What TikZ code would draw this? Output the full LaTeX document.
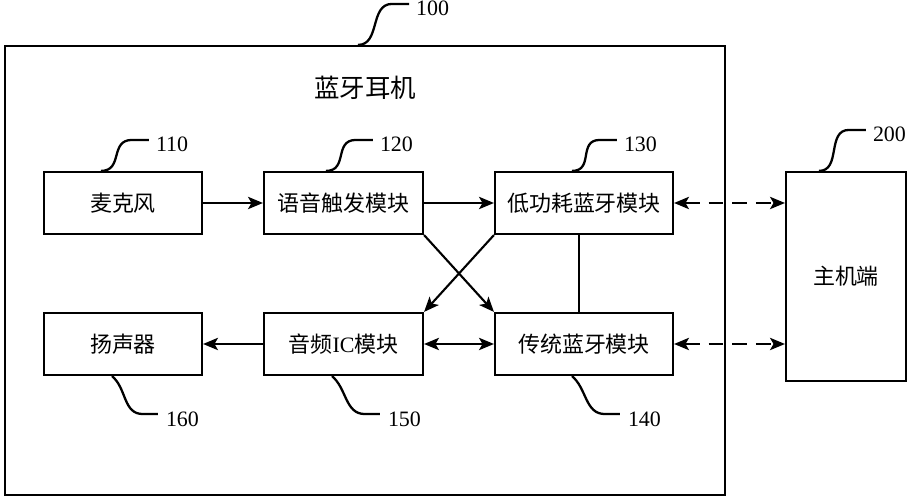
\documentclass[tikz,border=0pt]{standalone}
\usepackage{fontspec}
\setmainfont{Liberation Serif}
\newfontfamily\cjk{Noto Sans CJK SC}
\usepackage{tikz}
\usetikzlibrary{arrows.meta}

% number tag with an s-shaped leader line
\newcommand{\tagup}[4]{%
  \draw[lead] (#1) .. controls +(0.45,0) and +(-0.45,0) .. ++(#2) -- ++(0.34,0) coordinate (#3-t);
  \node[num,anchor=west] (#3) at ([shift={(0.12,-0.09)}]#3-t) {#4};}
\newcommand{\tagdown}[4]{%
  \draw[lead] (#1) .. controls +(0.3,-0.25) and +(-0.4,0) .. ++(#2) -- ++(0.3,0) coordinate (#3-t);
  \node[num,anchor=west] (#3) at ([shift={(0.14,-0.1)}]#3-t) {#4};}

\begin{document}
\begin{tikzpicture}[>={Stealth[length=8.5pt,width=7pt,inset=2pt]},line width=1.2pt,
    blk/.style={draw,inner sep=0pt,minimum height=1.24cm,font=\cjk\fontsize{12.5}{14}\selectfont},
    num/.style={inner sep=0pt,font=\fontsize{12.5}{14}\selectfont},
    lead/.style={line width=1.3pt},
    dasharr/.style={<->,dash pattern=on 8.5pt off 5pt}]
    \useasboundingbox (0,0) rectangle (18.22,10);
    \node[draw,minimum width=14.4cm,minimum height=8.98cm,inner sep=0pt] (ear) at (7.3,4.59) {};
    \node[font=\cjk\fontsize{14.5}{16}\selectfont] (title) at (7.3,8.24) {蓝牙耳机};
    % top row
    \node[blk,minimum width=3.16cm] (mic) at (2.46,5.94) {麦克风};
    \node[blk,minimum width=3.18cm] (vt) at (6.87,5.94) {语音触发模块};
    \node[blk,minimum width=3.56cm] (ble) at (11.68,5.94) {低功耗蓝牙模块};
    % bottom row
    \node[blk,minimum width=3.16cm] (spk) at (2.46,3.12) {扬声器};
    \node[blk,minimum width=3.18cm] (aic) at (6.87,3.12) {音频{\rmfamily IC}模块};
    \node[blk,minimum width=3.56cm] (bt) at (11.68,3.12) {传统蓝牙模块};
    \node[blk,minimum width=2.4cm,minimum height=4.18cm] (host) at (16.92,4.47) {主机端};

    \draw[->] (mic) -- (vt);
    \draw[->] (vt) -- (ble);
    \draw[->] (aic) -- (spk);
    \draw[<->] (aic) -- (bt);
    \draw[->] (vt.south east) -- (bt.north west);
    \draw[->] (ble.south west) -- (aic.north east);
    \draw ([xshift=-1mm]ble.south) -- ([xshift=-1mm]bt.north);
    \draw[dasharr] (ble.east) -- (ble.east -| host.west);
    \draw[dasharr] (bt.east) -- (bt.east -| host.west);

    \tagup{[xshift=-1.4mm]ear.north}{0.68,0.82}{t100}{100}
    \tagup{[xshift=11.6mm]mic.north west}{0.62,0.62}{t110}{110}
    \tagup{[xshift=12.6mm]vt.north west}{0.6,0.62}{t120}{120}
    \tagup{[xshift=15.6mm]ble.north west}{0.56,0.62}{t130}{130}
    \tagup{[xshift=6.8mm]host.north west}{0.6,0.82}{t200}{200}
    \tagdown{[xshift=13.8mm]spk.south west}{0.62,-0.76}{t160}{160}
    \tagdown{[xshift=13.8mm]aic.south west}{0.66,-0.76}{t150}{150}
    \tagdown{[xshift=15.6mm]bt.south west}{0.66,-0.76}{t140}{140}
\end{tikzpicture}
\end{document}
